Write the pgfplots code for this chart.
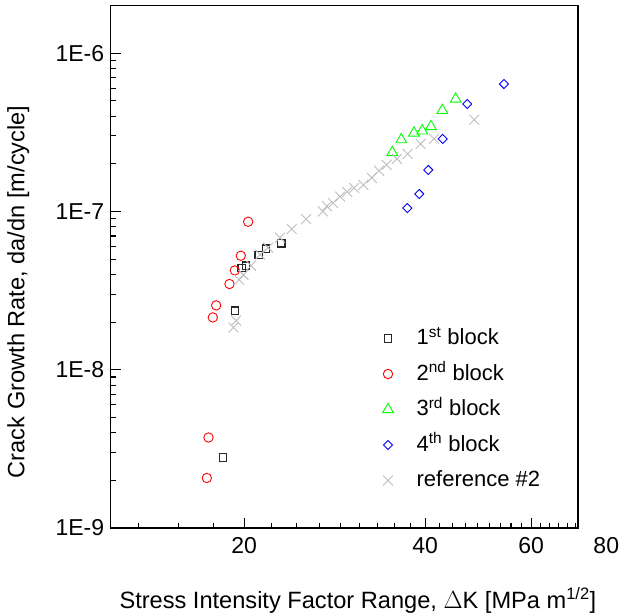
\documentclass[border=0pt]{standalone}
\usepackage{fontspec}
\setmainfont{Liberation Sans}
\usepackage{pgfplots}
\pgfplotsset{compat=1.18}

\definecolor{blkone}{RGB}{40,40,40}
\definecolor{blktwo}{RGB}{255,0,0}
\definecolor{blkthree}{RGB}{0,255,0}
\definecolor{blkfour}{RGB}{0,0,255}
\definecolor{refgray}{RGB}{190,190,190}

\newcommand{\bigfont}{\fontsize{23bp}{27bp}\selectfont}
\newcommand{\labfont}{\fontsize{23.6bp}{28bp}\selectfont}
\newcommand{\legfont}{\fontsize{22bp}{26bp}\selectfont}

\begin{document}
\begin{tikzpicture}
\begin{axis}[
  scale only axis,
  width=467.3bp, height=522.5bp,
  xmode=log, ymode=log,
  xmin=12, xmax=71.8,
  ymin=1e-9, ymax=2e-6,
  clip=false,
  axis line style={line width=1.2bp, black},
  tick align=inside,
  xtick pos=bottom, ytick pos=left,
  major tick length=10bp, minor tick length=5bp,
  every tick/.style={black, line width=1.1bp},
  xtick={20,40,60}, xticklabels={20,40,60},
  minor xtick={13.333,15.556,17.778,22.222,24.444,26.667,28.889,31.111,33.333,35.556,37.778,
               42.222,44.444,46.667,48.889,51.111,53.333,55.556,57.778,
               62.222,64.444,66.667,68.889,71.111},
  ytick={1e-9,1e-8,1e-7,1e-6}, yticklabels={1E-9,1E-8,1E-7,1E-6},
  minor ytick={2e-9,3e-9,4e-9,5e-9,6e-9,7e-9,8e-9,9e-9,
               2e-8,3e-8,4e-8,5e-8,6e-8,7e-8,8e-8,9e-8,
               2e-7,3e-7,4e-7,5e-7,6e-7,7e-7,8e-7,9e-7},
  tick label style={font=\bigfont},
  xticklabel style={yshift=-6bp},
  yticklabel style={xshift=-3bp},
  xlabel={Stress Intensity Factor Range, \(\Delta\)K [MPa m\textsuperscript{1/2}]},
  ylabel={Crack Growth Rate, da/dn [m/cycle]},
  label style={font=\labfont},
  xlabel style={at={(rel axis cs:0.529,-0.1378)}, anchor=center},
  ylabel style={at={(rel axis cs:-0.198,0.452)}, anchor=center, rotate=0},
  legend cell align=left,
  legend image code/.code={\draw[#1] plot coordinates {(12bp,0bp)}; \path (0bp,0bp) (39bp,0bp);},
  legend style={at={(rel axis cs:0.566,0.386)}, anchor=north west, draw=none, fill=none,
                font=\legfont, inner sep=0pt, row sep=11.5bp,
                nodes={inner sep=1bp, text height=17bp, text depth=5bp}},
]
% first loading block
\addplot[only marks, mark=square, mark size=3.8bp, draw=blkone, line width=1.2bp]
  coordinates {(18.44,2.79e-9) (19.32,2.36e-8) (19.82,4.39e-8) (20.15,4.54e-8)
               (21.16,5.30e-8) (21.75,5.81e-8) (23.04,6.31e-8)};
\addlegendentry{1\textsuperscript{st} block}
% second loading block
\addplot[only marks, mark=o, mark size=4.7bp, draw=blktwo, line width=0.9bp]
  coordinates {(17.45,3.73e-9) (17.34,2.07e-9) (17.74,2.14e-8) (17.97,2.55e-8)
               (18.91,3.48e-8) (19.30,4.24e-8) (19.75,5.25e-8) (20.31,8.61e-8)};
\addlegendentry{2\textsuperscript{nd} block}
% third loading block
\addplot[only marks, mark=triangle, mark size=6.2bp, draw=blkthree, line width=0.9bp]
  coordinates {(35.26,2.36e-7) (36.50,2.84e-7) (38.32,3.13e-7) (39.56,3.23e-7)
               (40.89,3.44e-7) (42.71,4.35e-7) (44.95,5.13e-7)};
\addlegendentry{3\textsuperscript{rd} block}
% fourth loading block
\addplot[only marks, mark=square, mark size=3.2bp, draw=blkfour, line width=0.9bp,
         every mark/.append style={rotate=45}]
  coordinates {(37.35,1.05e-7) (39.11,1.29e-7) (40.47,1.83e-7) (42.76,2.87e-7)
               (46.98,4.77e-7) (54.07,6.38e-7)};
\addlegendentry{4\textsuperscript{th} block}
% reference data set
\addplot[only marks, mark=x, mark size=7bp, draw=refgray, line width=0.9bp]
  coordinates {(19.20,1.85e-8) (19.40,2.04e-8) (19.62,3.70e-8) (19.95,3.98e-8)
               (20.54,4.54e-8) (21.26,5.33e-8) (21.92,5.90e-8) (22.95,6.82e-8)
               (24.00,7.74e-8) (25.35,8.95e-8) (27.03,1.00e-7) (27.45,1.08e-7)
               (28.11,1.13e-7) (28.88,1.24e-7) (29.66,1.33e-7) (30.47,1.41e-7)
               (31.57,1.47e-7) (32.60,1.63e-7) (33.52,1.81e-7) (34.52,1.97e-7)
               (35.90,2.15e-7) (37.40,2.31e-7) (39.31,2.67e-7) (41.37,2.88e-7)
               (48.26,3.80e-7)};
\addlegendentry{reference \#2}
% label of the 80 tick mark beyond the axis end
\node[anchor=north, font=\bigfont, yshift=-6bp] at (axis cs:80,1e-9) {80};
\end{axis}
\pgfresetboundingbox
\path (current axis.south west) ++(-110.7bp,-88bp) rectangle ++(621bp,616bp);
\end{tikzpicture}
\end{document}
